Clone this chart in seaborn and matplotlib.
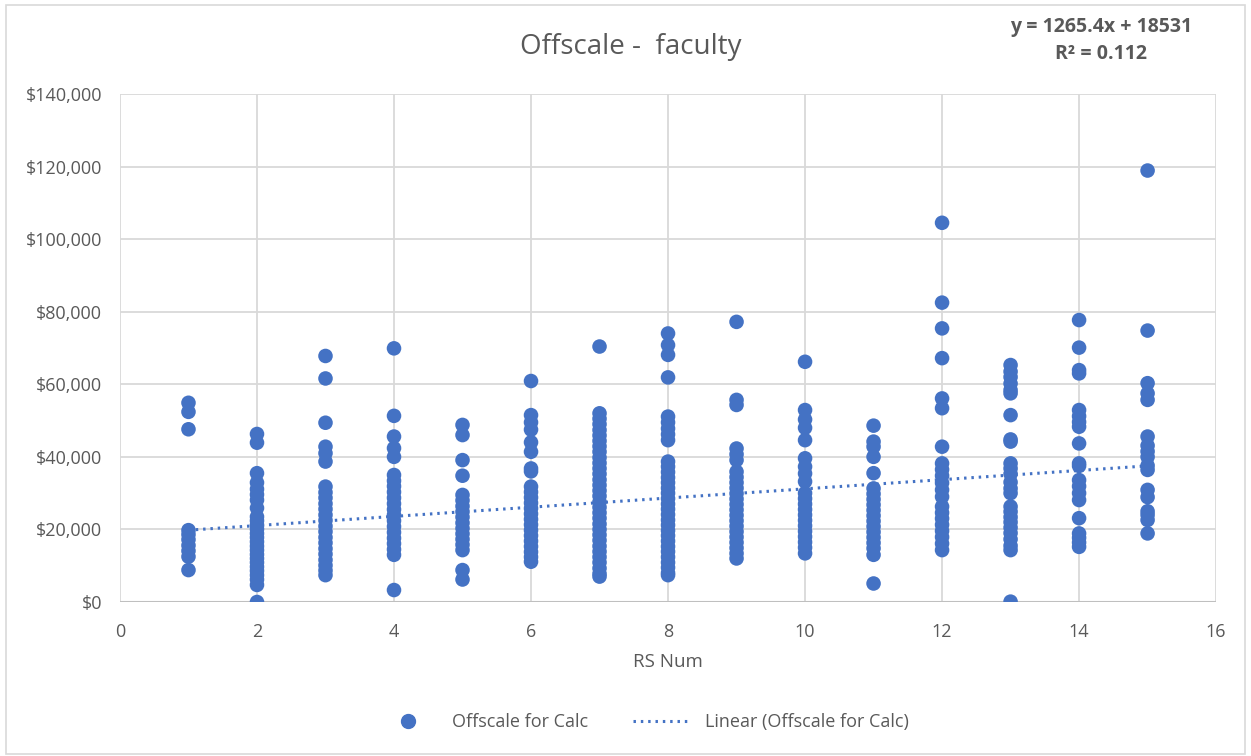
import matplotlib
matplotlib.use("Agg")
import matplotlib.pyplot as plt
import matplotlib.ticker as mticker
from matplotlib.lines import Line2D
from matplotlib.patches import Rectangle
import seaborn as sns
import numpy as np
import pandas as pd

# Offscale amounts ($) by RS Num
rs_1 = [54900, 52400, 47600, 19800, 18600, 17200, 15600, 14100, 12500, 8800]
rs_2 = [46300, 43900, 35500, 32900, 31100, 29600, 28100, 25900, 23500, 22400,
        21200, 20100, 18900, 17800, 16600, 15400, 14300, 13100, 12000, 10900,
        9700, 8600, 7400, 6200, 4700, 0]
rs_3 = [67800, 61600, 49400, 42800, 41000, 38700, 31800, 30200, 28700, 27100,
        25600, 24000, 22500, 20900, 19400, 17800, 16300, 14700, 13200, 11600,
        10100, 8700, 7400]
rs_4 = [69900, 51300, 45600, 42400, 40000, 35000, 33400, 31900, 30300, 28700,
        27100, 25500, 24000, 22400, 20800, 19200, 17600, 16100, 14500, 13000, 3300]
rs_5 = [48800, 46000, 39100, 34800, 29500, 28000, 26400, 24900, 23400, 21800,
        20300, 18800, 17300, 15800, 14300, 8800, 6200]
rs_6 = [60900, 51500, 49500, 47500, 44000, 41400, 36800, 36000, 31800, 30300,
        28800, 27300, 25800, 24300, 22800, 21300, 19800, 18300, 16800, 15300,
        13800, 12400, 11100]
rs_7 = [70400, 52000, 50500, 49000, 47400, 45900, 44400, 42900, 41400, 39800,
        38300, 36800, 35300, 33700, 32200, 30700, 29200, 27600, 26100, 24600,
        23100, 21500, 20000, 18500, 17000, 15400, 13900, 12400, 10900, 9300,
        7800, 7000]
rs_8 = [74000, 70800, 68100, 61900, 51100, 49500, 47800, 46200, 44600, 38700,
        37300, 35800, 34300, 32900, 31400, 30000, 28500, 27000, 25600, 24100,
        22600, 21200, 19700, 18300, 16800, 15300, 13900, 12400, 10900, 9500,
        8000, 7400]
rs_9 = [77200, 55700, 54300, 42300, 40700, 39100, 35900, 34400, 32900, 31400,
        29900, 28400, 26900, 25400, 23900, 22400, 20900, 19400, 17900, 16400,
        14900, 13400, 12000]
rs_10 = [66200, 52900, 50300, 48000, 44600, 39600, 37300, 35400, 33200, 30000,
         28500, 27000, 25500, 24000, 22500, 21000, 19500, 18000, 16500, 15000, 13400]
rs_11 = [48600, 44200, 42800, 40000, 35500, 31300, 29800, 28300, 26800, 25300,
         23800, 22300, 20800, 19300, 17800, 16300, 14800, 13000, 5100]
rs_12 = [104500, 82500, 75400, 67200, 56100, 53400, 42800, 38200, 36500, 34800,
         32800, 30900, 29000, 26300, 24600, 23000, 21300, 19600, 17900, 16100, 14300]
rs_13 = [65300, 63500, 62000, 60200, 58400, 57500, 51500, 44800, 44200, 38200,
         36800, 35300, 33000, 31300, 30000, 26300, 24900, 23400, 22000, 20500,
         19000, 17300, 15500, 14300, 100]
rs_14 = [77700, 70100, 63900, 63000, 52900, 51200, 49600, 48300, 43700, 38200,
         37500, 33600, 31900, 30000, 28100, 23100, 18900, 17700, 16400, 15200]
rs_15 = [118900, 74800, 60300, 57500, 55700, 45600, 43100, 41500, 40000, 37600,
         36400, 30900, 28900, 25000, 24000, 22600, 18900]

columns = [rs_1, rs_2, rs_3, rs_4, rs_5, rs_6, rs_7, rs_8, rs_9, rs_10,
           rs_11, rs_12, rs_13, rs_14, rs_15]

# Excel linear trendline, as printed on the chart
trend_slope = 1265.4
trend_intercept = 18531
trend_r2 = 0.112

rows = []
for i, vals in enumerate(columns):
    for v in vals:
        rows.append({"rs_num": i + 1, "offscale": v})
df = pd.DataFrame(rows)

blue = "#4472C4"
grey_text = "#595959"

sns.set_theme(style="white")
plt.rcParams["font.family"] = ["Open Sans", "DejaVu Sans"]

fig = plt.figure(figsize=(12.51, 7.56), dpi=100)
ax = fig.add_axes([0.0959, 0.2037, 0.8762, 0.672])

sns.scatterplot(data=df, x="rs_num", y="offscale", ax=ax, color=blue,
                s=110, edgecolor="none", zorder=3, legend=False)

tx = np.array([df["rs_num"].min(), df["rs_num"].max()])
ax.plot(tx, trend_slope * tx + trend_intercept, color=blue, lw=2.2,
        linestyle=(0, (0.8, 1.6)), zorder=4)

ax.set_xlim(0, 16)
ax.set_ylim(0, 140000)
ax.set_xticks(range(0, 17, 2))
ax.set_yticks(range(0, 140001, 20000))
ax.yaxis.set_major_formatter(mticker.StrMethodFormatter("${x:,.0f}"))
ax.grid(True, color="#d9d9d9", lw=1.3)
for s in ax.spines.values():
    s.set_visible(False)
ax.axhline(0, color="#bfbfbf", lw=1.5, zorder=2)
ax.tick_params(axis="both", length=0, labelsize=13, labelcolor=grey_text)
ax.tick_params(axis="x", pad=15)
ax.tick_params(axis="y", pad=13)

ax.set_xlabel("RS Num", fontsize=13.5, color=grey_text, labelpad=9)
ax.set_ylabel("")
fig.text(0.504, 0.938, "Offscale -  faculty", ha="center", va="center",
         fontsize=20, color=grey_text)

fig.text(0.88, 0.964, f"y = {trend_slope}x + {trend_intercept}", ha="center",
         va="center", fontsize=14, fontweight="bold", color=grey_text)
fig.text(0.88, 0.929, f"R² = {trend_r2}", ha="center", va="center",
         fontsize=14, fontweight="bold", color=grey_text)

handles = [
    Line2D([], [], marker="o", color=blue, linestyle="none", markersize=10),
    Line2D([], [], color=blue, lw=2.2, linestyle=(0, (0.8, 1.6))),
]
fig.legend(handles, ["Offscale for Calc", "Linear (Offscale for Calc)"],
           loc="center", bbox_to_anchor=(0.515, 0.045), ncol=2, frameon=False,
           fontsize=13, labelcolor=grey_text, handlelength=3.2, columnspacing=2.5)

fig.patches.append(Rectangle((0.005, 0.003), 0.99, 0.99, transform=fig.transFigure,
                             fill=False, edgecolor="#d9d9d9", lw=1.2))

fig.savefig("out.png", dpi=100)
